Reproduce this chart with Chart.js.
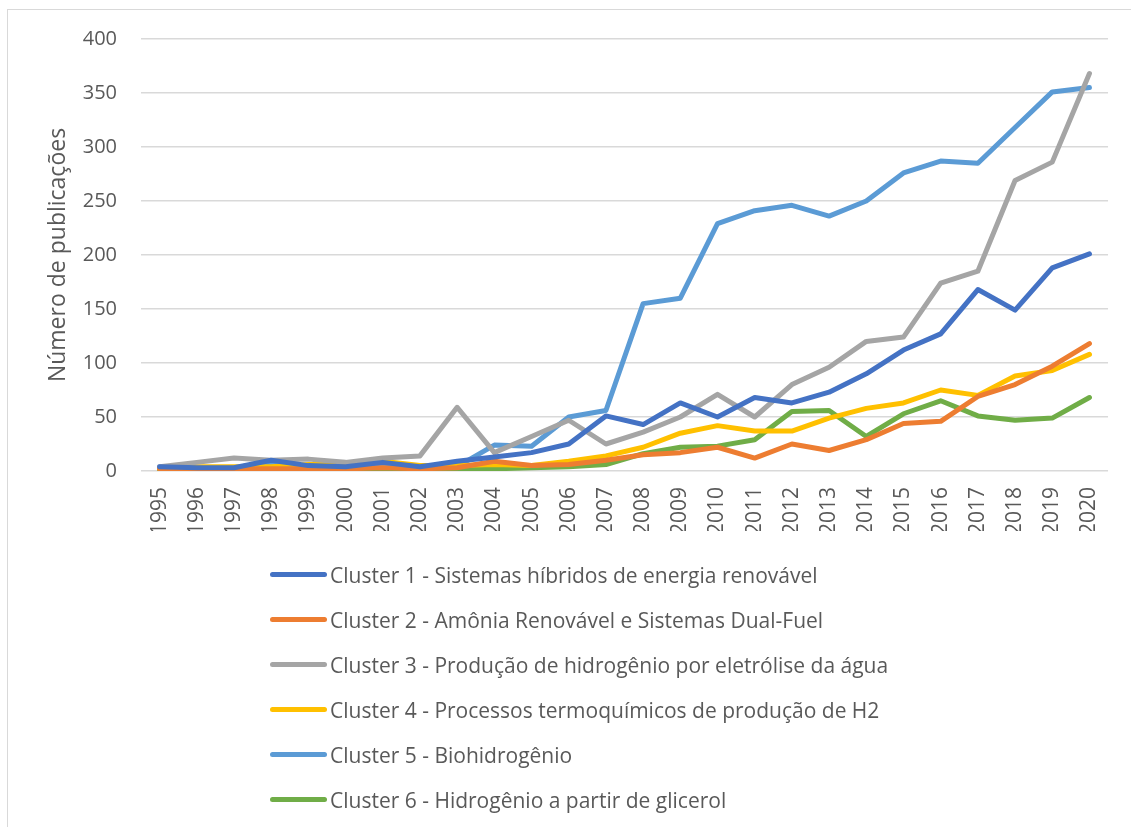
<!DOCTYPE html>
<html>
<head>
<meta charset="utf-8">
<script src="https://cdn.jsdelivr.net/npm/chart.js"></script>
<style>
  html, body { margin: 0; padding: 0; background: #fff; }
  #wrap { position: relative; width: 1131px; height: 827px; overflow: hidden; }
  #frame { position: absolute; left: 7px; top: 9px; width: 1140px; height: 840px; border: 1px solid #d9d9d9; box-sizing: border-box; }
  canvas { position: absolute; left: 0; top: 0; }
  #legend { position: absolute; left: 270px; top: 552px; font-family: "Open Sans", sans-serif; font-size: 21px; color: #595959; }
  .row { display: flex; align-items: center; height: 45px; white-space: nowrap; }
  .sw { width: 57px; height: 5px; border-radius: 3px; margin-right: 3px; }
</style>
</head>
<body>
<div id="wrap">
  <div id="frame"></div>
  <canvas id="c" width="1131" height="827"></canvas>
  <div id="legend"></div>
</div>
<script>
const years = ['1995','1996','1997','1998','1999','2000','2001','2002','2003','2004','2005','2006','2007','2008','2009','2010','2011','2012','2013','2014','2015','2016','2017','2018','2019','2020'];
const seriesNames = [
  'Cluster 1 - Sistemas híbridos de energia renovável',
  'Cluster 2 - Amônia Renovável e Sistemas Dual-Fuel',
  'Cluster 3 - Produção de hidrogênio por eletrólise da água',
  'Cluster 4 - Processos termoquímicos de produção de H2',
  'Cluster 5 - Biohidrogênio',
  'Cluster 6 - Hidrogênio a partir de glicerol'
];
const cluster1 = [4,3,3,10,5,4,8,4,9,13,17,25,51,43,63,50,68,63,73,90,112,127,168,149,188,201];
const cluster2 = [2,2,2,2,2,2,3,2,3,9,5,6,10,15,17,22,12,25,19,29,44,46,69,80,97,118];
const cluster3 = [4,8,12,10,11,8,12,14,59,17,32,47,25,36,50,71,50,80,96,120,124,174,185,269,286,368];
const cluster4 = [2,4,4,4,6,6,9,5,5,6,5,9,14,22,35,42,37,37,49,58,63,75,70,88,93,108];
const cluster5 = [3,3,3,8,4,4,4,4,4,24,23,50,56,155,160,229,241,246,236,250,276,287,285,318,351,355];
const cluster6 = [1,1,1,1,1,1,1,1,1,2,3,4,6,16,22,23,29,55,56,32,53,65,51,47,49,68];
const yTicks = [0,50,100,150,200,250,300,350,400];
const yTitle = 'Número de publicações';

const colors = ['#4472C4','#ED7D31','#A5A5A5','#FFC000','#5B9BD5','#70AD47'];
const values = [cluster1, cluster2, cluster3, cluster4, cluster5, cluster6];

const datasets = values.map((v, i) => ({
  label: seriesNames[i],
  data: v,
  borderColor: colors[i],
  backgroundColor: colors[i],
  borderWidth: 5,
  pointRadius: 0,
  pointHoverRadius: 0,
  tension: 0,
  fill: false,
  borderCapStyle: 'round',
  borderJoinStyle: 'round'
}));

const txt = '#595959';
new Chart(document.getElementById('c'), {
  type: 'line',
  data: { labels: years, datasets },
  options: {
    responsive: false,
    animation: false,
    layout: { padding: { left: 0, top: 39, right: 18.3, bottom: 296 } },
    plugins: { legend: { display: false }, tooltip: { enabled: false } },
    scales: {
      x: {
        offset: true,
        grid: { display: false, drawTicks: false },
        border: { display: false },
        ticks: { color: txt, font: { family: 'Open Sans', size: 21 }, minRotation: 90, maxRotation: 90, padding: 16, autoSkip: false },
        afterFit: s => { s.height = 60; }
      },
      y: {
        min: 0, max: 400,
        afterBuildTicks: s => { s.ticks = yTicks.map(v => ({ value: v })); },
        grid: { color: '#d9d9d9', lineWidth: 1.5, drawTicks: false },
        border: { display: false },
        ticks: { color: txt, font: { family: 'Open Sans', size: 20 }, padding: 24 },
        title: { display: true, text: yTitle, color: txt, font: { family: 'Open Sans', size: 23 }, padding: { top: 45, bottom: 0 } },
        afterFit: s => { s.width = 141; }
      }
    }
  }
});

const lg = document.getElementById('legend');
seriesNames.forEach((n, i) => {
  const r = document.createElement('div');
  r.className = 'row';
  const sw = document.createElement('span');
  sw.className = 'sw';
  sw.style.background = colors[i];
  const t = document.createElement('span');
  t.textContent = n;
  r.appendChild(sw); r.appendChild(t);
  lg.appendChild(r);
});
</script>
</body>
</html>
